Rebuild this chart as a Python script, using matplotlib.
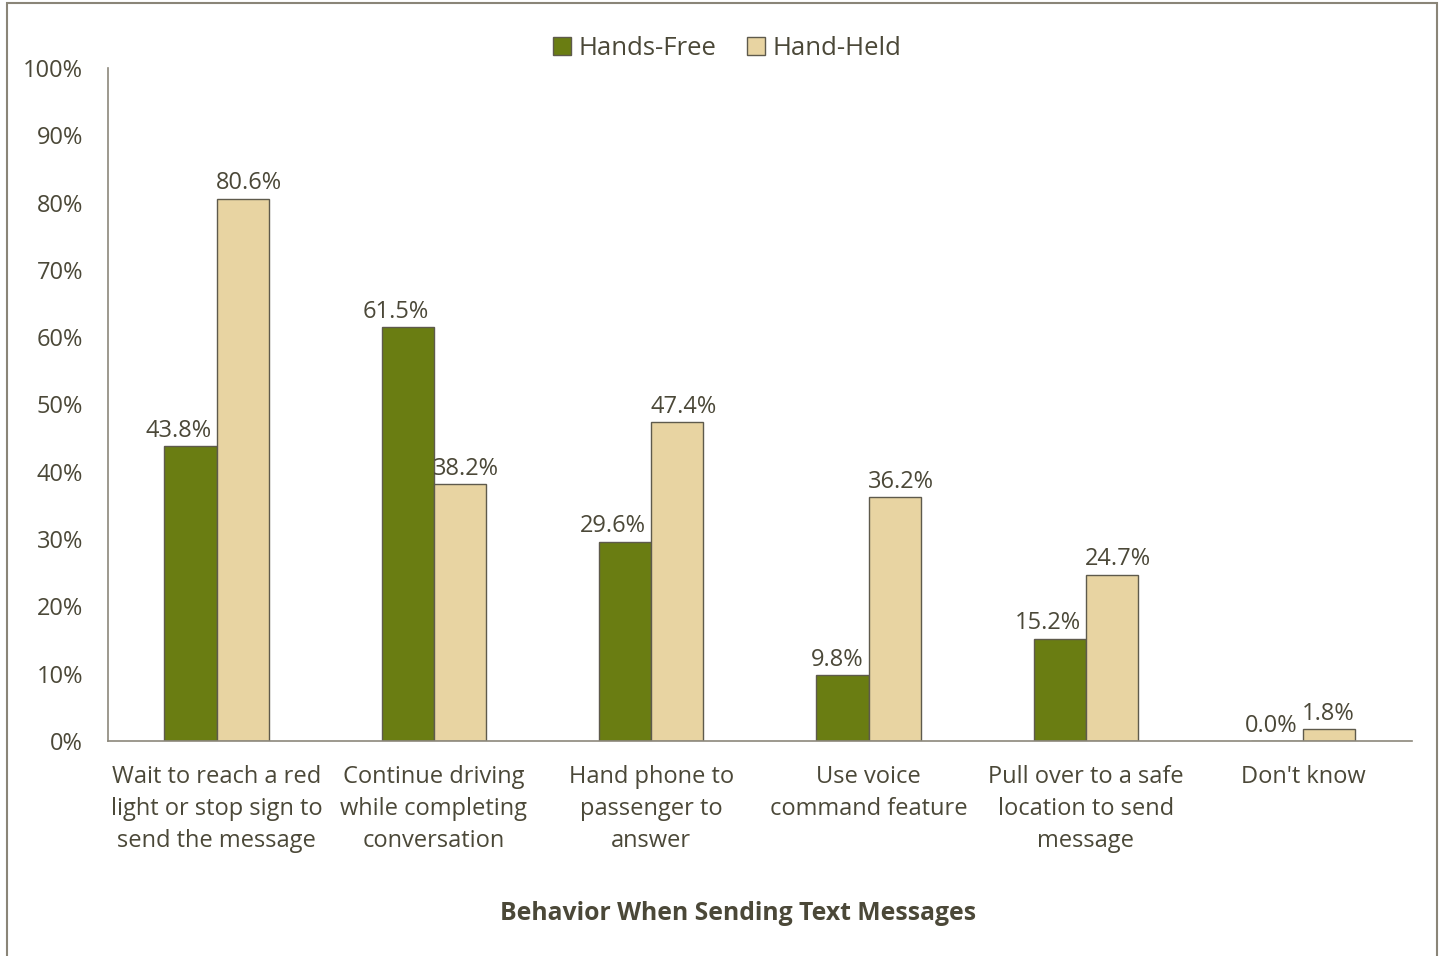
import matplotlib
matplotlib.use("Agg")
import matplotlib.pyplot as plt
import numpy as np
from matplotlib.ticker import FuncFormatter

plt.rcParams["font.family"] = ["Open Sans", "DejaVu Sans"]

categories = [
    "Wait to reach a red\nlight or stop sign to\nsend the message",
    "Continue driving\nwhile completing\nconversation",
    "Hand phone to\npassenger to\nanswer",
    "Use voice\ncommand feature",
    "Pull over to a safe\nlocation to send\nmessage",
    "Don't know",
]
hands_free = [43.8, 61.5, 29.6, 9.8, 15.2, 0.0]
hand_held = [80.6, 38.2, 47.4, 36.2, 24.7, 1.8]
series_names = ["Hands-Free", "Hand-Held"]

TEXT = "#4b4838"
EDGE = "#5e5a4c"
AXIS = "#8c887c"
GREEN = "#6a7d12"
TAN = "#e8d4a2"
FS = 17

fig = plt.figure(figsize=(14.43, 9.56), dpi=100)
ax = fig.add_axes([0.0748, 0.2249, 0.9037, 0.704])

x = np.arange(len(categories))
w = 0.24
b1 = ax.bar(x - w / 2, hands_free, w, color=GREEN, edgecolor=EDGE, linewidth=1.0,
            label=series_names[0])
b2 = ax.bar(x + w / 2, hand_held, w, color=TAN, edgecolor=EDGE, linewidth=1.0,
            label=series_names[1])

# labels pushed apart: left series right-aligned, right series left-aligned
for b, v in zip(b1, hands_free):
    ax.text(b.get_x() + b.get_width() - 0.025, v + 0.5, f"{v:.1f}%",
            ha="right", va="bottom", fontsize=FS, color=TEXT)
for b, v in zip(b2, hand_held):
    ax.text(b.get_x() - 0.005, v + 0.5, f"{v:.1f}%",
            ha="left", va="bottom", fontsize=FS, color=TEXT)

ax.set_xlim(-0.5, len(categories) - 0.5)
ax.set_ylim(0, 100)
ax.set_yticks(np.arange(0, 101, 10))
ax.yaxis.set_major_formatter(FuncFormatter(lambda v, _: f"{v:.0f}%"))
ax.set_xticks(x)
ax.set_xticklabels(categories, fontsize=FS, color=TEXT, linespacing=1.45)
ax.tick_params(axis="both", length=0, labelsize=FS, colors=TEXT)
ax.tick_params(axis="y", pad=18)
ax.tick_params(axis="x", pad=17)

for side in ("top", "right"):
    ax.spines[side].set_visible(False)
for side in ("left", "bottom"):
    ax.spines[side].set_color(AXIS)
    ax.spines[side].set_linewidth(1.2)

fig.text(738 / 1443, 1 - 914 / 956, "Behavior When Sending Text Messages",
         ha="center", va="center", fontsize=17.8, fontweight="bold", color=TEXT)

leg = fig.legend(loc="upper center", bbox_to_anchor=(0.504, 0.987), ncol=2,
                 frameon=False, fontsize=18.5, handlelength=0.7, handleheight=0.7,
                 handletextpad=0.3, columnspacing=1.2)
for t in leg.get_texts():
    t.set_color(TEXT)

# outer chart border
fig.patches.append(plt.Rectangle((0.005, -0.01), 0.991, 1.007, transform=fig.transFigure,
                                 fill=False, edgecolor="#8a8578", linewidth=1.5))

fig.savefig("out.png", dpi=100)
